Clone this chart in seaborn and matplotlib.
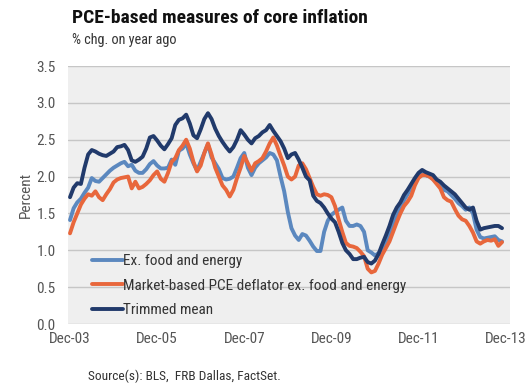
import numpy as np
import pandas as pd
import matplotlib
matplotlib.use("Agg")
import matplotlib.pyplot as plt
from matplotlib import font_manager
import seaborn as sns

# Monthly year-over-year % change, Dec-2003 onward
ex_food_energy = [
    1.41, 1.57, 1.65, 1.70, 1.78, 1.85, 1.98, 1.94, 1.93, 1.98, 2.03, 2.08,
    2.12, 2.15, 2.18, 2.20, 2.14, 2.16, 2.08, 2.05, 2.05, 2.10, 2.17, 2.21,
    2.15, 2.11, 2.11, 2.12, 2.23, 2.16, 2.35, 2.38, 2.45, 2.30, 2.18, 2.08,
    2.20, 2.32, 2.44, 2.26, 2.18, 2.10, 1.98, 1.96, 1.97, 2.00, 2.12, 2.25,
    2.32, 2.12, 2.02, 2.12, 2.18, 2.22, 2.26, 2.32, 2.30, 2.22, 2.00, 1.80,
    1.52, 1.30, 1.20, 1.14, 1.22, 1.20, 1.13, 1.05, 0.99, 0.99, 1.25, 1.40,
    1.48, 1.52, 1.55, 1.58, 1.40, 1.33, 1.33, 1.35, 1.33, 1.25, 1.00, 0.97,
    0.93, 0.96, 1.02, 1.12, 1.24, 1.36, 1.48, 1.57, 1.68, 1.76, 1.85, 1.93,
    2.00, 2.04, 2.02, 2.00, 1.97, 1.92, 1.86, 1.82, 1.80, 1.75, 1.70, 1.64,
    1.60, 1.55, 1.58, 1.50, 1.28, 1.18, 1.16, 1.17, 1.18, 1.19, 1.14, 1.12,
]
market_based = [
    1.23, 1.38, 1.50, 1.62, 1.70, 1.76, 1.74, 1.80, 1.72, 1.68, 1.76, 1.83,
    1.92, 1.96, 1.98, 1.99, 2.00, 1.84, 1.93, 1.84, 1.86, 1.90, 1.95, 2.02,
    2.07, 1.97, 1.93, 2.05, 2.20, 2.25, 2.36, 2.42, 2.50, 2.38, 2.20, 2.07,
    2.15, 2.32, 2.45, 2.30, 2.12, 2.00, 1.88, 1.82, 1.73, 1.82, 1.98, 2.12,
    2.28, 2.18, 2.08, 2.18, 2.21, 2.25, 2.34, 2.45, 2.53, 2.42, 2.28, 2.15,
    2.00, 1.96, 2.00, 2.15, 2.18, 2.10, 1.98, 1.86, 1.76, 1.74, 1.76, 1.75,
    1.72, 1.60, 1.42, 1.25, 1.10, 1.06, 1.05, 1.03, 0.98, 0.92, 0.75, 0.70,
    0.72, 0.82, 0.94, 1.03, 1.12, 1.25, 1.38, 1.50, 1.60, 1.66, 1.74, 1.88,
    1.98, 2.02, 2.02, 2.00, 1.96, 1.90, 1.84, 1.72, 1.68, 1.66, 1.56, 1.47,
    1.42, 1.40, 1.33, 1.24, 1.12, 1.09, 1.12, 1.14, 1.13, 1.15, 1.06, 1.11,
]
trimmed_mean = [
    1.72, 1.85, 1.91, 1.90, 2.12, 2.30, 2.36, 2.34, 2.31, 2.29, 2.28, 2.31,
    2.34, 2.40, 2.41, 2.43, 2.36, 2.22, 2.20, 2.23, 2.27, 2.38, 2.53, 2.55,
    2.49, 2.42, 2.37, 2.44, 2.52, 2.70, 2.77, 2.79, 2.84, 2.72, 2.56, 2.52,
    2.64, 2.78, 2.86, 2.78, 2.65, 2.55, 2.47, 2.40, 2.34, 2.40, 2.50, 2.63,
    2.57, 2.50, 2.45, 2.52, 2.55, 2.60, 2.63, 2.70, 2.62, 2.55, 2.48, 2.38,
    2.25, 2.30, 2.32, 2.23, 2.12, 2.00, 1.95, 1.74, 1.67, 1.64, 1.58, 1.50,
    1.43, 1.38, 1.25, 1.10, 1.00, 0.95, 0.88, 0.88, 0.90, 0.91, 0.84, 0.82,
    0.86, 0.95, 1.08, 1.20, 1.33, 1.48, 1.58, 1.65, 1.75, 1.82, 1.90, 1.98,
    2.05, 2.09, 2.06, 2.04, 2.02, 1.96, 1.93, 1.88, 1.84, 1.80, 1.76, 1.70,
    1.64, 1.58, 1.55, 1.58, 1.40, 1.28, 1.30, 1.31, 1.32, 1.33, 1.33, 1.30,
]
series_names = [
    "Ex. food and energy",
    "Market-based PCE deflator ex. food and energy",
    "Trimmed mean",
]
series_colors = ["#5b88bf", "#e8673c", "#213a6b"]
tick_positions = [0, 24, 48, 72, 96, 120]
tick_labels = ["Dec-03", "Dec-05", "Dec-07", "Dec-09", "Dec-11", "Dec-13"]
y_ticks = [0.0, 0.5, 1.0, 1.5, 2.0, 2.5, 3.0, 3.5]

month_index = np.arange(len(trimmed_mean))
df = pd.concat(
    [
        pd.DataFrame({"month": month_index, "value": vals, "series": name})
        for name, vals in zip(series_names, [ex_food_energy, market_based, trimmed_mean])
    ],
    ignore_index=True,
)


def pick_font(*names):
    for n in names:
        try:
            font_manager.findfont(font_manager.FontProperties(family=n),
                                  fallback_to_default=False)
            return n
        except ValueError:
            continue
    return "DejaVu Sans"


sns.set_style("whitegrid", {
    "axes.facecolor": "#efefef",
    "grid.color": "#c6c6c6",
    "axes.edgecolor": "#efefef",
})
narrow = pick_font("Liberation Sans Narrow", "Roboto Condensed", "Liberation Sans")
plt.rcParams["font.family"] = [narrow, "DejaVu Sans"]

fig = plt.figure(figsize=(5.27, 3.86), dpi=100)
ax = fig.add_axes([68 / 527, 1 - 324 / 386, 442 / 527, 258 / 386])

sns.lineplot(
    data=df, x="month", y="value", hue="series", hue_order=series_names,
    palette=series_colors, linewidth=2.8, ax=ax,
)

ax.set_xlim(-0.55, 121.2)
ax.set_ylim(0, 3.5)
ax.set_yticks(y_ticks)
ax.set_yticklabels([f"{v:.1f}" for v in y_ticks])
ax.set_xticks(tick_positions)
ax.set_xticklabels(tick_labels)
ax.grid(axis="x", visible=False)
ax.grid(axis="y", linewidth=1.0)
ax.tick_params(axis="both", length=0, labelsize=11, colors="#555555", pad=6)
ax.tick_params(axis="y", pad=9)
for s in ax.spines.values():
    s.set_visible(False)
ax.set_xlabel("")
ax.set_ylabel("Percent", fontsize=11, color="#555555", labelpad=2)

handles, labels = ax.get_legend_handles_labels()
ax.legend(
    handles, labels, loc="lower left", bbox_to_anchor=(0.03, -0.015),
    frameon=False, fontsize=11, handlelength=2.0, handletextpad=0.0,
    labelspacing=0.68, labelcolor="#333333", borderaxespad=0.3,
)

fig.text(72 / 527, 1 - 18 / 386, "PCE-based measures of core inflation",
         fontsize=14, fontweight="bold", color="#111111", va="center", ha="left")
fig.text(72 / 527, 1 - 40 / 386, "% chg. on year ago",
         fontsize=10.3, color="#333333", va="center", ha="left")
fig.text(88 / 527, 1 - 376 / 386, "Source(s): BLS,  FRB Dallas, FactSet.",
         fontsize=9.6, color="#333333", va="center", ha="left")

fig.savefig("out.png", dpi=100, facecolor="white")
